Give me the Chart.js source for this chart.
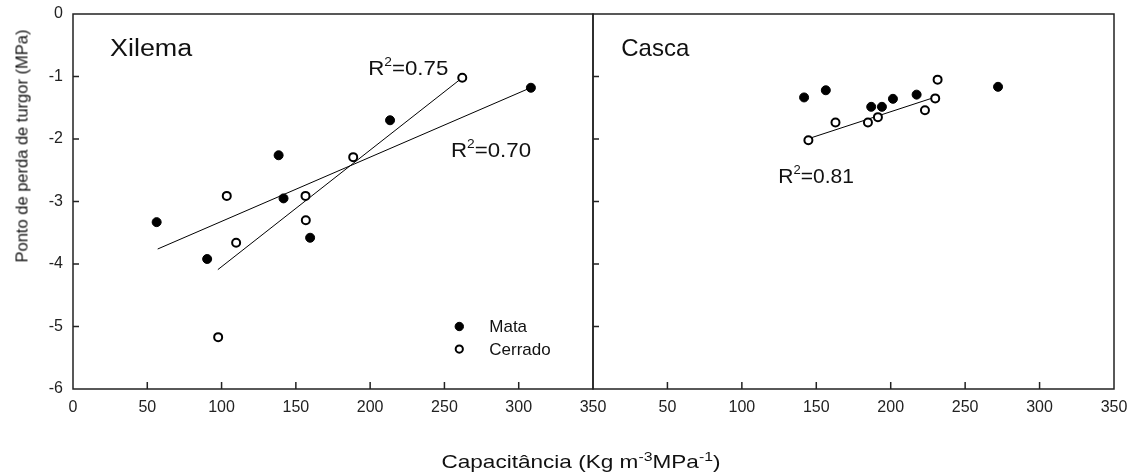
<!DOCTYPE html>
<html>
<head>
<meta charset="utf-8">
<script src="https://cdn.jsdelivr.net/npm/chart.js@4.4.1/dist/chart.umd.min.js"></script>
<style>
  body { margin: 0; background: #fff; font-family: "Liberation Sans", Arial, sans-serif; }
  #wrap { position: relative; width: 1135px; height: 474px; overflow: hidden; }
  canvas { position: absolute; top: 0; }
  #c1 { left: 0; }
  #c2 { left: 560px; }
  .ytitle { position: absolute; left: 22px; top: 146px; transform: translate(-50%, -50%) rotate(-90deg);
    white-space: nowrap; font-size: 16.5px; color: #111; }
  .xtitle { position: absolute; left: 581px; top: 461px; transform: translate(-50%, -50%) scaleX(1.22);
    white-space: nowrap; font-size: 18.5px; color: #111; }
  .xtitle sup { font-size: 13px; }
</style>
</head>
<body>
<div id="wrap">
  <canvas id="c2" width="575" height="474"></canvas>
  <canvas id="c1" width="630" height="474"></canvas>
  <div class="ytitle">Ponto de perda de turgor (MPa)</div>
  <div class="xtitle">Capacitância (Kg m<sup>-3</sup>MPa<sup>-1</sup>)</div>
</div>
<script>
// Xilema
const xilMataX = [56.3, 90.3, 138.4, 141.7, 159.6, 213.4, 308.2];
const xilMataY = [-3.33, -3.92, -2.26, -2.95, -3.58, -1.70, -1.18];
const xilCerradoX = [97.7, 103.5, 109.8, 156.5, 156.7, 188.6, 262];
const xilCerradoY = [-5.17, -2.91, -3.66, -2.91, -3.30, -2.29, -1.02];
// retas de regressao (extremos)
const xilMataFitX = [57, 309];
const xilMataFitY = [-3.76, -1.17];
const xilCerradoFitX = [97.5, 262];
const xilCerradoFitY = [-4.09, -1.02];

// Casca
const casMataX = [141.8, 156.4, 186.9, 194.1, 201.5, 217.4, 272.1];
const casMataY = [-1.335, -1.22, -1.485, -1.485, -1.357, -1.29, -1.165];
const casCerradoX = [144.7, 162.9, 184.7, 191.4, 223, 229.9, 231.5];
const casCerradoY = [-2.02, -1.735, -1.735, -1.65, -1.54, -1.35, -1.05];
const casCerradoFitX = [144.7, 229.9];
const casCerradoFitY = [-1.995, -1.33];

const xTicks = [0, 50, 100, 150, 200, 250, 300, 350];
const yTicks = [0, -1, -2, -3, -4, -5, -6];

const FONT = '"Liberation Sans", Arial, sans-serif';

function pts(xs, ys) {
  return xs.map((x, i) => ({ x: x, y: ys[i] }));
}

function mataSet(xs, ys) {
  return { label: "Mata", data: pts(xs, ys), pointRadius: 4.5, pointBackgroundColor: "#000",
    pointBorderColor: "#000", pointBorderWidth: 1, showLine: false, order: 1 };
}
function cerradoSet(xs, ys) {
  return { label: "Cerrado", data: pts(xs, ys), pointRadius: 4, pointBackgroundColor: "#fff",
    pointBorderColor: "#000", pointBorderWidth: 2, showLine: false, order: 1 };
}
function fitSet(xs, ys) {
  return { label: "fit", data: pts(xs, ys), type: "line", showLine: true, pointRadius: 0,
    borderColor: "#000", borderWidth: 1, fill: false, order: 2 };
}

// moldura + marcas para dentro
const framePlugin = {
  id: "frame",
  afterDraw(chart, args, opts) {
    const { ctx, chartArea: a, scales } = chart;
    const x = scales.x, y = scales.y;
    ctx.save();
    ctx.strokeStyle = "#222";
    ctx.lineWidth = 1.5;
    ctx.strokeRect(a.left, a.top, a.right - a.left, a.bottom - a.top);
    ctx.beginPath();
    xTicks.forEach(v => {
      if (v > x.min && v < x.max) {
        const px = x.getPixelForValue(v);
        ctx.moveTo(px, a.bottom);
        ctx.lineTo(px, a.bottom - 7);
      }
    });
    yTicks.forEach(v => {
      if (v > y.min && v < y.max) {
        const py = y.getPixelForValue(v);
        ctx.moveTo(a.left, py);
        ctx.lineTo(a.left + 6, py);
      }
    });
    ctx.stroke();
    ctx.restore();
  }
};

// textos dentro do grafico
const notesPlugin = {
  id: "notes",
  afterDraw(chart, args, opts) {
    const { ctx, scales } = chart;
    ctx.save();
    ctx.fillStyle = "#111";
    ctx.textBaseline = "alphabetic";
    ctx.textAlign = "left";
    (opts.items || []).forEach(it => {
      ctx.save();
      ctx.translate(scales.x.getPixelForValue(it.x), scales.y.getPixelForValue(it.y));
      ctx.scale(it.sx || 1, 1);
      let px = 0;
      ctx.font = it.size + "px " + FONT;
      ctx.fillText(it.text, px, 0);
      px += ctx.measureText(it.text).width;
      if (it.sup) {
        ctx.font = Math.round(it.size * 0.62) + "px " + FONT;
        ctx.fillText(it.sup, px, -it.size * 0.42);
        px += ctx.measureText(it.sup).width;
        ctx.font = it.size + "px " + FONT;
        ctx.fillText(it.after, px, 0);
      }
      ctx.restore();
    });
    if (opts.legend) {
      const lg = opts.legend;
      lg.rows.forEach((r, i) => {
        const mx = scales.x.getPixelForValue(lg.x);
        const my = scales.y.getPixelForValue(lg.y) + i * 22.6;
        ctx.beginPath();
        ctx.arc(mx, my, r.filled ? 4.2 : 3.6, 0, Math.PI * 2);
        ctx.fillStyle = r.filled ? "#000" : "#fff";
        ctx.fill();
        ctx.lineWidth = r.filled ? 1 : 2;
        ctx.strokeStyle = "#000";
        ctx.stroke();
        ctx.fillStyle = "#111";
        ctx.font = "17px " + FONT;
        ctx.textBaseline = "middle";
        ctx.fillText(r.label, mx + 30, my + 1);
      });
    }
    ctx.restore();
  }
};

function baseOptions(left, notes, showY) {
  return {
    responsive: false,
    animation: false,
    devicePixelRatio: 1,
    layout: { padding: { top: 14, left: 0, right: left ? 37 : 21, bottom: 0 } },
    plugins: { legend: { display: false }, tooltip: { enabled: false }, notes: notes },
    scales: {
      x: {
        type: "linear", min: 0, max: 350,
        afterBuildTicks: s => { s.ticks = xTicks.map(v => ({ value: v })); },
        grid: { display: false, drawTicks: false },
        border: { display: false },
        ticks: {
          padding: 9, color: "#222", font: { family: FONT, size: 16 },
          callback: v => (!left && v === 0) ? "" : String(v)
        },
        afterFit: s => { s.height = 85; s.paddingLeft = 0; s.paddingRight = 0; }
      },
      y: {
        type: "linear", min: -6, max: 0,
        afterBuildTicks: s => { s.ticks = yTicks.map(v => ({ value: v })); },
        grid: { display: false, drawTicks: false },
        border: { display: false },
        ticks: { display: showY, padding: 10, color: "#222", font: { family: FONT, size: 16 } },
        afterFit: s => { s.width = left ? 73 : 33; s.paddingTop = 0; s.paddingBottom = 0; }
      }
    }
  };
}

new Chart(document.getElementById("c1"), {
  type: "scatter",
  data: {
    datasets: [
      mataSet(xilMataX, xilMataY),
      cerradoSet(xilCerradoX, xilCerradoY),
      fitSet(xilMataFitX, xilMataFitY),
      fitSet(xilCerradoFitX, xilCerradoFitY)
    ]
  },
  options: baseOptions(true, {
    items: [
      { x: 24.9, y: -0.67, text: "Xilema", size: 23, sx: 1.17 },
      { x: 198.7, y: -0.98, text: "R", sup: "2", after: "=0.75", size: 21, sx: 1.06 },
      { x: 254.4, y: -2.28, text: "R", sup: "2", after: "=0.70", size: 21, sx: 1.06 }
    ],
    legend: { x: 260, y: -5.0, rows: [{ label: "Mata", filled: true }, { label: "Cerrado", filled: false }] }
  }, true),
  plugins: [framePlugin, notesPlugin]
});

new Chart(document.getElementById("c2"), {
  type: "scatter",
  data: {
    datasets: [
      mataSet(casMataX, casMataY),
      cerradoSet(casCerradoX, casCerradoY),
      fitSet(casCerradoFitX, casCerradoFitY)
    ]
  },
  options: baseOptions(false, {
    items: [
      { x: 19, y: -0.67, text: "Casca", size: 24 },
      { x: 124.5, y: -2.70, text: "R", sup: "2", after: "=0.81", size: 21 }
    ]
  }, false),
  plugins: [framePlugin, notesPlugin]
});
</script>
</body>
</html>
